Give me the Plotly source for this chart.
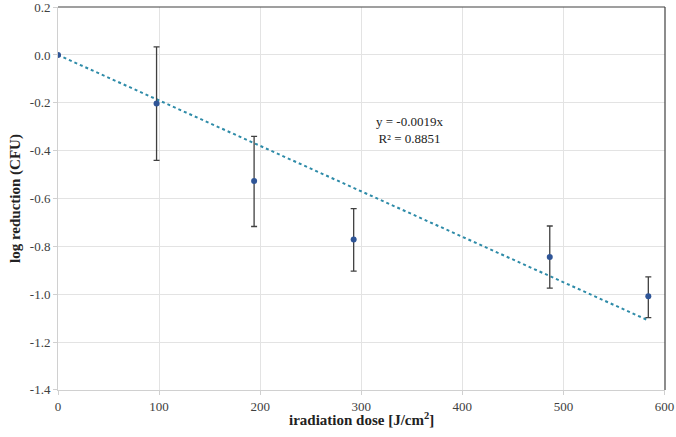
import plotly.graph_objects as go

dose = [0, 97.5, 194, 292.5, 486.5, 584]
log_red = [0.0, -0.203, -0.527, -0.771, -0.845, -1.009]
err_plus = [0.0, 0.237, 0.187, 0.129, 0.13, 0.081]
err_minus = [0.0, 0.238, 0.19, 0.133, 0.13, 0.089]
trend_slope = -0.0019
trend_label = "y = -0.0019x<br>R² = 0.8851"

x_ticks = [0, 100, 200, 300, 400, 500, 600]
y_ticks = [0.2, 0.0, -0.2, -0.4, -0.6, -0.8, -1.0, -1.2, -1.4]

trend_x = [min(dose), max(dose)]
trend_y = [trend_slope * v for v in trend_x]

SERIF = "Liberation Serif, Times New Roman, serif"

fig = go.Figure()
fig.add_trace(go.Scatter(
    x=trend_x, y=trend_y, mode="lines",
    line=dict(color="#2E8BA8", width=2, dash="dot"),
    hoverinfo="skip", showlegend=False))
fig.add_trace(go.Scatter(
    x=dose, y=log_red, mode="markers",
    marker=dict(color="#2F5597", size=6),
    error_y=dict(type="data", symmetric=False, array=err_plus, arrayminus=err_minus,
                 color="#404040", thickness=1.3, width=3),
    showlegend=False))

fig.add_annotation(x=348, y=-0.315, text=trend_label, showarrow=False,
                   font=dict(family=SERIF, size=13, color="#222222"),
                   align="center")

# axis titles
fig.add_annotation(xref="paper", yref="paper", x=0.5, y=0, yshift=-18,
                   yanchor="top", showarrow=False,
                   text="<b>iradiation dose [J/cm<sup>2</sup>]</b>",
                   font=dict(family=SERIF, size=15, color="#222222"))
fig.add_annotation(xref="paper", yref="paper", x=0, xshift=-32, y=0.5,
                   xanchor="right", textangle=-90, showarrow=False,
                   text="<b>log reduction (CFU)</b>",
                   font=dict(family=SERIF, size=15, color="#222222"))

font = dict(family=SERIF, size=13, color="#404040")
fig.update_layout(
    width=676, height=437,
    margin=dict(l=58, r=11, t=7, b=47),
    paper_bgcolor="white", plot_bgcolor="white",
    font=font,
    xaxis=dict(range=[0, 600.5], tickvals=x_ticks, ticktext=[str(v) for v in x_ticks],
               showgrid=True, gridcolor="#E3E3E3", gridwidth=1,
               showline=True, linecolor="#D0D0D0", linewidth=1,
               ticks="outside", ticklen=4, tickcolor="#D0D0D0",
               zeroline=False, automargin=False, tickfont=font,
               ticklabeloverflow="allow"),
    yaxis=dict(range=[-1.4005, 0.2005], tickvals=y_ticks,
               ticktext=[f"{v:.1f}" for v in y_ticks],
               showgrid=True, gridcolor="#E3E3E3", gridwidth=1,
               showline=True, linecolor="#D0D0D0", linewidth=1,
               ticks="outside", ticklen=4, tickcolor="#D0D0D0",
               zeroline=False, automargin=False, tickfont=font,
               ticklabeloverflow="allow"),
)
fig.add_shape(type="line", xref="paper", yref="paper", x0=0, x1=1, y0=1, y1=1,
              line=dict(color="#404040", width=1.2))
fig.add_shape(type="line", xref="paper", yref="paper", x0=1, x1=1, y0=0, y1=1,
              line=dict(color="#404040", width=1.2))

fig.write_html("out.html", config={"displayModeBar": False},
               post_script="document.body.style.margin='0';")
